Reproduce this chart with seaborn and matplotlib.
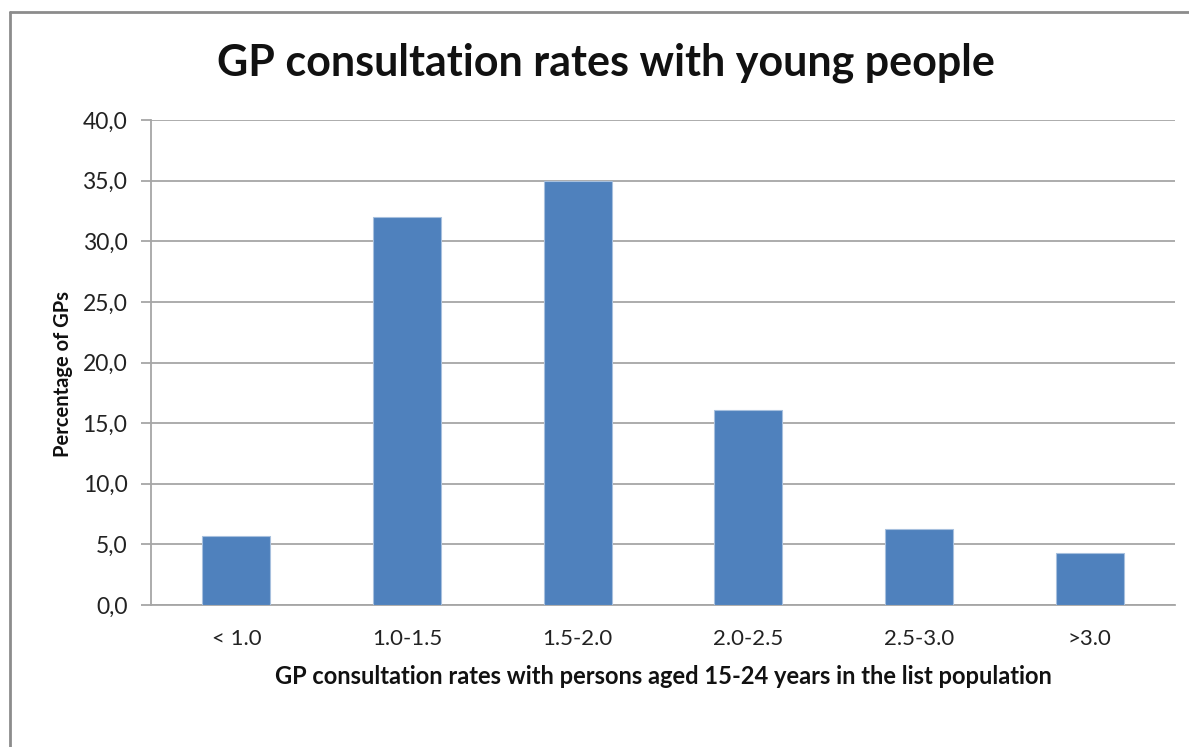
import matplotlib
matplotlib.use("Agg")
import matplotlib.pyplot as plt
import seaborn as sns
import pandas as pd
from matplotlib.lines import Line2D
from matplotlib.ticker import FuncFormatter, MultipleLocator

categories = ["< 1.0", "1.0-1.5", "1.5-2.0", "2.0-2.5", "2.5-3.0", ">3.0"]
values = [5.7, 32.0, 35.0, 16.1, 6.3, 4.3]

sns.set_theme(style="white")
plt.rcParams['font.family'] = ['Lato', 'DejaVu Sans']

df = pd.DataFrame({"cat": categories, "val": values})

fig = plt.figure(figsize=(11.89, 7.47), dpi=100)
ax = fig.add_axes([151/1189, 1 - 605/747, (1175-151)/1189, (605-120)/747])

sns.barplot(data=df, x="cat", y="val", ax=ax, color="#4F81BD", width=0.4,
            edgecolor="#A7C0DE", linewidth=0.8, saturation=1, zorder=3)

ax.set_ylim(0, 40)
ax.set_xlim(-0.5, 5.5)
ax.yaxis.set_major_locator(MultipleLocator(5))
ax.yaxis.set_major_formatter(FuncFormatter(lambda v, p: f"{v:.1f}".replace(".", ",")))
ax.grid(axis="y", color="#A6A6A6", linewidth=1.3, zorder=0)
ax.set_axisbelow(True)
for s in ["top", "right"]:
    ax.spines[s].set_visible(False)
ax.spines["left"].set_color("#A6A6A6")
ax.spines["left"].set_linewidth(1.3)
ax.spines["bottom"].set_color("#A6A6A6")
ax.spines["bottom"].set_linewidth(1.3)
ax.tick_params(axis="y", which="major", left=True, length=7, width=1.3, color="#A6A6A6",
               labelsize=16.5, labelcolor="#222222", pad=10)
ax.tick_params(axis="x", bottom=False, labelsize=16, labelcolor="#222222", pad=11)

ax.set_xlabel("GP consultation rates with persons aged 15-24 years in the list population",
              fontsize=17, fontweight="bold", labelpad=12, color="#111111")
ax.set_ylabel("Percentage of GPs", fontsize=14.5, fontweight="bold", color="#111111")
ax.yaxis.set_label_coords(-0.076, 0.477)

fig.text(606/1189, 1 - 63/747, "GP consultation rates with young people", ha="center", va="center",
         fontsize=31, fontweight="bold", color="#111111")

# outer frame (left and top edges visible)
fig.add_artist(Line2D([10/1189, 10/1189], [0, 1 - 12/747], transform=fig.transFigure,
                      color="#8C8C8C", linewidth=2))
fig.add_artist(Line2D([10/1189, 1], [1 - 12/747, 1 - 12/747], transform=fig.transFigure,
                      color="#8C8C8C", linewidth=2))

fig.savefig("out.png", dpi=100, facecolor="white")
